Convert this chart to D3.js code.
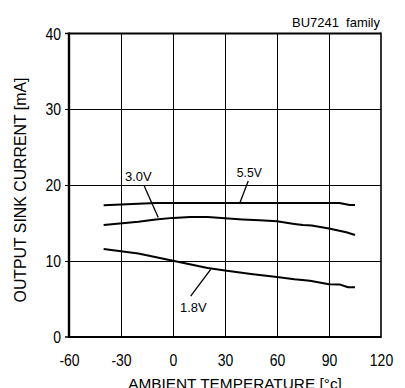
<!DOCTYPE html>
<html><head><meta charset="utf-8">
<script src="https://cdn.jsdelivr.net/npm/d3@7"></script>
<style>
html,body{margin:0;padding:0;background:#fff;}
svg{display:block;}
text{font-family:"Liberation Sans",Arial,sans-serif;fill:#000;}
</style></head>
<body>
<svg id="c" width="405" height="388"></svg>
<script>
// ---- data ----
const xTicks = [-60, -30, 0, 30, 60, 90, 120];
const yTicks = [0, 10, 20, 30, 40];

const temps55 = [-40, -10, 20, 50, 80, 96, 102, 105];
const vals55  = [17.35, 17.65, 17.67, 17.67, 17.67, 17.65, 17.4, 17.4];

const temps30 = [-40, -20, -10, 0, 10, 20, 30, 40, 50, 60, 70, 75, 80, 90, 100, 105];
const vals30  = [14.75, 15.2, 15.5, 15.7, 15.8, 15.8, 15.65, 15.5, 15.4, 15.25, 14.9, 14.75, 14.7, 14.3, 13.8, 13.45];

const temps18 = [-40, -20, 0, 20, 30, 45, 60, 70, 79, 90, 96, 101, 105];
const vals18  = [11.6, 11.0, 10.05, 9.1, 8.75, 8.3, 7.9, 7.6, 7.4, 6.95, 6.93, 6.55, 6.55];

const seriesNames = ["5.5V", "3.0V", "1.8V"];
// label anchor (text) and leader line endpoints, in data units
const labelText  = [[44, 21.1], [-20, 20.5], [11.7, 3.3]];
const leaderFrom = [[43.4, 20.57], [-16.6, 19.9], [10.2, 5.4]];
const leaderTo   = [[38.6, 17.7], [-8.5, 15.75], [21.75, 8.9]];

const xTitle = "AMBIENT TEMPERATURE [°c]";
const yTitle = "OUTPUT SINK CURRENT [mA]";
const noteText = "BU7241\u00a0\u00a0family";

// ---- chart ----
const svg = d3.select("#c");
const L = 69, R = 381, T = 33.5, B = 337;
const x = d3.scaleLinear().domain([-60, 120]).range([L, R]);
const y = d3.scaleLinear().domain([0, 40]).range([B, T]);

// size a text so that its rendered width equals the target width
function fitWidth(sel, target, base) {
  sel.attr("font-size", base);
  const w = sel.node().getComputedTextLength();
  if (w > 0) sel.attr("font-size", base * target / w);
  return sel;
}

// grid
const g = svg.append("g");
g.selectAll(".vg").data(xTicks.slice(1, -1)).enter().append("line")
  .attr("x1", d => Math.round(x(d)) + 0.5).attr("x2", d => Math.round(x(d)) + 0.5)
  .attr("y1", T).attr("y2", B).attr("stroke", "#000").attr("stroke-width", 1);
g.selectAll(".hg").data(yTicks.slice(1, -1)).enter().append("line")
  .attr("x1", L - 4).attr("x2", R)
  .attr("y1", d => Math.round(y(d)) + 0.5).attr("y2", d => Math.round(y(d)) + 0.5)
  .attr("stroke", "#000").attr("stroke-width", 1);

// frame
svg.append("line").attr("x1", L).attr("x2", R).attr("y1", T).attr("y2", T).attr("stroke", "#000").attr("stroke-width", 2);
svg.append("line").attr("x1", L).attr("x2", R).attr("y1", B).attr("y2", B).attr("stroke", "#000").attr("stroke-width", 2.2);
svg.append("line").attr("x1", L).attr("x2", L).attr("y1", T - 1).attr("y2", B + 1).attr("stroke", "#000").attr("stroke-width", 2.4);
svg.append("line").attr("x1", R).attr("x2", R).attr("y1", T - 1).attr("y2", B + 1).attr("stroke", "#000").attr("stroke-width", 1.6);
svg.selectAll(".ts").data([0, 40]).enter().append("line")
  .attr("x1", L - 4).attr("x2", L).attr("y1", d => y(d)).attr("y2", d => y(d))
  .attr("stroke", "#000").attr("stroke-width", 1.5);

// axes labels via d3 axes (domain/ticks hidden)
const fmt = d => String(d);
const xAxis = d3.axisBottom(x).tickValues(xTicks).tickSize(0).tickPadding(0).tickFormat(fmt);
const xa = svg.append("g").attr("transform", `translate(0,${B})`).call(xAxis);
xa.select(".domain").remove();
xa.selectAll("text").attr("font-size", 14)
  .attr("dy", null).attr("y", 0)
  .attr("transform", "translate(0,29) scale(1,1.15)");

const yAxis = d3.axisLeft(y).tickValues(yTicks).tickSize(0).tickPadding(0).tickFormat(fmt);
const ya = svg.append("g").attr("transform", `translate(${L - 8},0)`).call(yAxis);
ya.select(".domain").remove();
ya.selectAll("text").attr("font-size", 14)
  .attr("dy", null).attr("x", 0).attr("y", 0)
  .attr("transform", "translate(0,5.5) scale(1,1.15)");

// series
const line = d3.line().x(d => x(d[0])).y(d => y(d[1]));
const series = [
  d3.zip(temps55, vals55),
  d3.zip(temps30, vals30),
  d3.zip(temps18, vals18)
];
svg.selectAll(".s").data(series).enter().append("path")
  .attr("d", line).attr("fill", "none").attr("stroke", "#000").attr("stroke-width", 2)
  .attr("stroke-linejoin", "round");

// leaders + labels
const labelWidths = [25, 26.7, 26.7];
seriesNames.forEach((n, i) => {
  svg.append("line")
    .attr("x1", x(leaderFrom[i][0])).attr("y1", y(leaderFrom[i][1]))
    .attr("x2", x(leaderTo[i][0])).attr("y2", y(leaderTo[i][1]))
    .attr("stroke", "#000").attr("stroke-width", 1.3);
  const t = svg.append("text")
    .attr("transform", `translate(${x(labelText[i][0])},${y(labelText[i][1])}) scale(1,1.05)`)
    .attr("text-anchor", "middle").text(n);
  fitWidth(t, labelWidths[i], 11);
});

// titles
fitWidth(svg.append("text").attr("transform", `translate(380,27)`)
  .attr("text-anchor", "end").text(noteText), 88, 12.8);
fitWidth(svg.append("text").attr("transform", `translate(235,389)`)
  .attr("text-anchor", "middle").text(xTitle), 214, 15);
fitWidth(svg.append("text").attr("transform", `translate(26,190) rotate(-90)`)
  .attr("text-anchor", "middle").text(yTitle), 225, 15.5);
</script>
</body></html>
